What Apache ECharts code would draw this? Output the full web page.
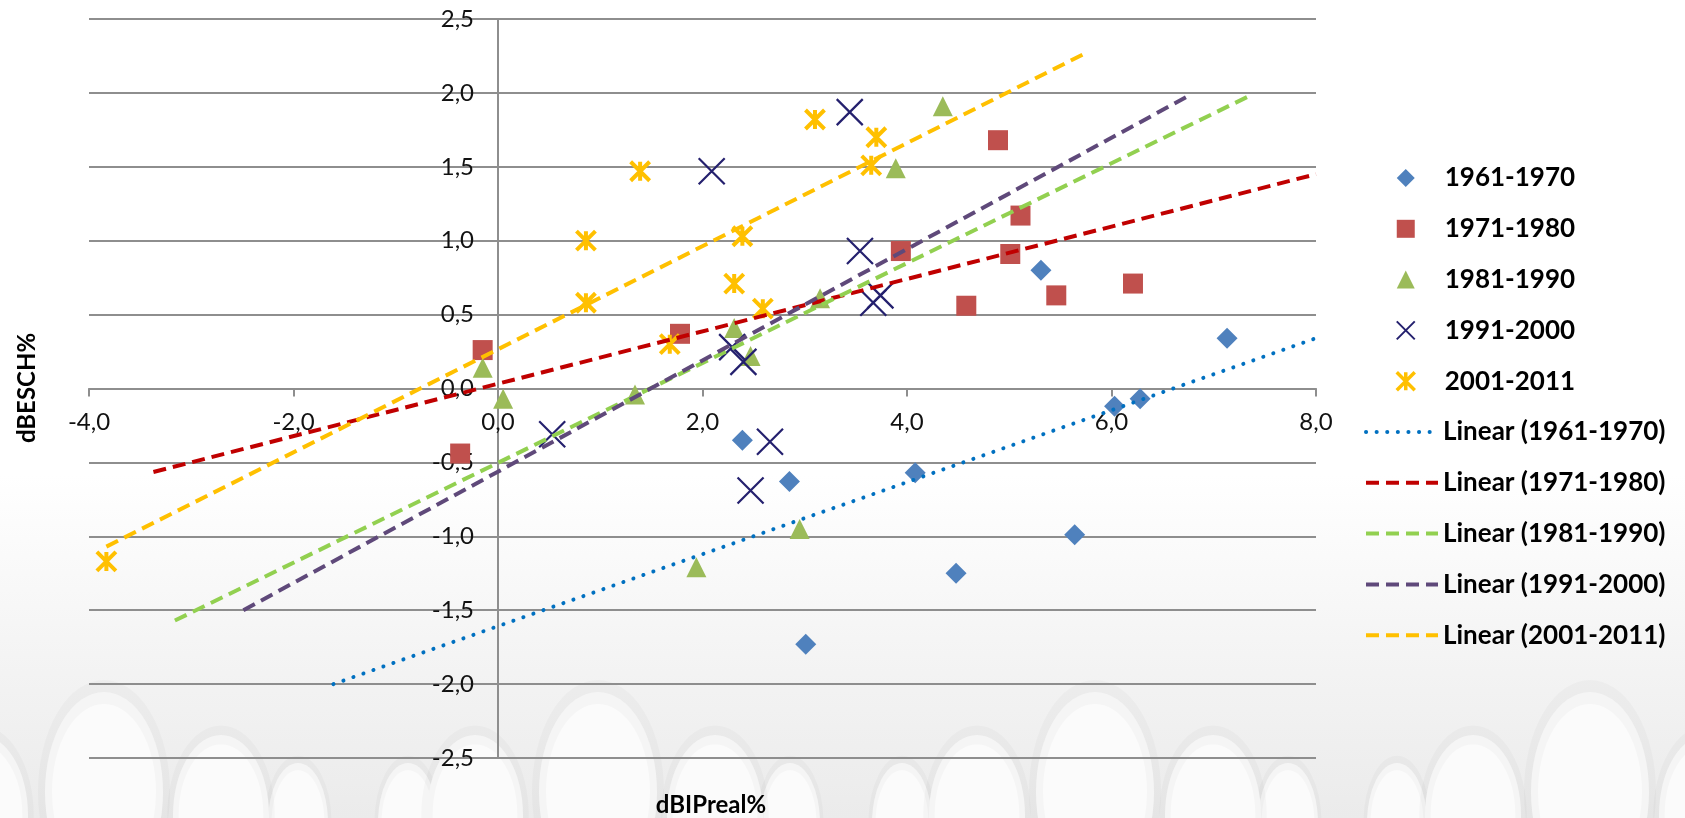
<!DOCTYPE html>
<html>
<head>
<meta charset="utf-8">
<script src="https://cdn.jsdelivr.net/npm/echarts@6/dist/echarts.min.js"></script>
<style>
html,body{margin:0;padding:0;background:#fff;}
#c{width:1685px;height:818px;}
</style>
</head>
<body>
<div id="c"></div>
<script>
// ---- data ----
const names = ['1961-1970', '1971-1980', '1981-1990', '1991-2000', '2001-2011'];

const x1961 = [2.39, 2.85, 3.01, 4.08, 4.48, 5.31, 5.64, 6.03, 6.28, 7.13];
const y1961 = [-0.35, -0.63, -1.73, -0.57, -1.25, 0.80, -0.99, -0.12, -0.07, 0.34];

const x1971 = [-0.37, -0.15, 1.78, 3.94, 4.58, 4.89, 5.01, 5.11, 5.46, 6.21];
const y1971 = [-0.44, 0.26, 0.37, 0.93, 0.56, 1.68, 0.91, 1.17, 0.63, 0.71];

const x1981 = [-0.15, 0.05, 1.34, 1.94, 2.31, 2.47, 2.95, 3.15, 3.89, 4.35];
const y1981 = [0.14, -0.07, -0.04, -1.21, 0.41, 0.22, -0.95, 0.61, 1.49, 1.91];

const x1991 = [0.53, 2.09, 2.29, 2.40, 2.47, 2.66, 3.44, 3.54, 3.67, 3.74];
const y1991 = [-0.31, 1.47, 0.28, 0.18, -0.69, -0.36, 1.87, 0.93, 0.58, 0.63];

const x2001 = [-3.83, 0.86, 0.86, 1.39, 1.68, 2.31, 2.39, 2.59, 3.10, 3.65, 3.70];
const y2001 = [-1.17, 0.58, 1.00, 1.47, 0.30, 0.71, 1.03, 0.54, 1.82, 1.51, 1.70];

// trend line end points (as drawn in the reference)
const tx1961 = [-1.61, 8.0],  ty1961 = [-2.0, 0.34];
const tx1971 = [-3.37, 8.0],  ty1971 = [-0.565, 1.45];
const tx1981 = [-3.16, 7.38], ty1981 = [-1.57, 1.99];
const tx1991 = [-2.49, 6.78], ty1991 = [-1.50, 1.99];
const tx2001 = [-3.83, 5.72], ty2001 = [-1.07, 2.26];

const xTicks = [-4, -2, 0, 2, 4, 6, 8];
const yTicks = [-2.5, -2, -1.5, -1, -0.5, 0, 0.5, 1, 1.5, 2, 2.5];

// ---- build ----
const zip = (a, b) => a.map((v, i) => [v, b[i]]);
const fmt = v => v.toFixed(1).replace('.', ',');
const FONT = 'Lato, "Open Sans", sans-serif';

const xPath = 'path://M0,0L10,10M10,0L0,10';
const starPath = 'path://M0,0L10,10M10,0L0,10M5,0L5,10';

const scatterDefs = [
  {name: names[0], data: zip(x1961, y1961), symbol: 'diamond', size: 21, itemStyle: {color: '#4F81BD', opacity: 1}},
  {name: names[1], data: zip(x1971, y1971), symbol: 'rect', size: 20, itemStyle: {color: '#C0504D', opacity: 1}},
  {name: names[2], data: zip(x1981, y1981), symbol: 'triangle', size: 20, itemStyle: {color: '#9BBB59', opacity: 1}},
  {name: names[3], data: zip(x1991, y1991), symbol: xPath, size: 26, itemStyle: {color: 'rgba(0,0,0,0)', borderColor: '#24206E', borderWidth: 2.2, opacity: 1}},
  {name: names[4], data: zip(x2001, y2001), symbol: starPath, size: 19, itemStyle: {color: 'rgba(0,0,0,0)', borderColor: '#FFC000', borderWidth: 4, opacity: 1}}
];

const trendDefs = [
  {name: 'Linear (' + names[0] + ')', data: zip(tx1961, ty1961), color: '#0070C0', type: [0.1, 10.5], cap: 'round', width: 4},
  {name: 'Linear (' + names[1] + ')', data: zip(tx1971, ty1971), color: '#C00000', type: [13, 7], cap: 'butt', width: 4},
  {name: 'Linear (' + names[2] + ')', data: zip(tx1981, ty1981), color: '#92D050', type: [13, 7], cap: 'butt', width: 4},
  {name: 'Linear (' + names[3] + ')', data: zip(tx1991, ty1991), color: '#5F497A', type: [13, 7], cap: 'butt', width: 4},
  {name: 'Linear (' + names[4] + ')', data: zip(tx2001, ty2001), color: '#FFC000', type: [13, 7], cap: 'butt', width: 4}
];

const series = [];
scatterDefs.forEach(d => series.push({
  type: 'scatter', name: d.name, data: d.data, symbol: d.symbol, symbolSize: d.size,
  itemStyle: d.itemStyle, z: 3, silent: true, emphasis: {disabled: true}
}));
trendDefs.forEach(d => series.push({
  type: 'line', name: d.name, data: d.data, symbol: 'none', showSymbol: false,
  lineStyle: {color: d.color, width: d.width, type: d.type, cap: d.cap},
  itemStyle: {color: d.color}, z: 4, silent: true, emphasis: {disabled: true}
}));

const scatterLegendData = scatterDefs.map(d => {
  const o = {name: d.name};
  if (d.name === names[4]) o.itemStyle = {borderWidth: 3.5};
  return o;
});
const lineLegendData = trendDefs.map(d => ({name: d.name, itemStyle: {opacity: 0, color: 'rgba(0,0,0,0)', borderWidth: 0}}));

// decorative background bubbles (bottom band): [cx, top]
const smallB = [[298, 763], [408, 763], [790, 763], [902, 763], [1288, 763], [1397, 763]];
const mediumB = [[-20, 735], [221, 735], [475, 735], [715, 735], [977, 735], [1213, 735], [1473, 735], [1707, 735]];
const bigB = [[104, 692], [598, 692], [1095, 692], [1590, 692]];

const graphics = [
  {type: 'rect', z: -100, silent: true, shape: {x: 0, y: 0, width: 1685, height: 818},
   style: {fill: {type: 'linear', x: 0, y: 0, x2: 0, y2: 1, colorStops: [
     {offset: 0, color: '#ffffff'}, {offset: 0.58, color: '#ffffff'},
     {offset: 0.8, color: '#f4f4f4'}, {offset: 1, color: '#ebebeb'}]}}}
];
function addBubbles(list, rx, ry, zz) {
  list.forEach(b => graphics.push({
    type: 'circle', z: zz, silent: true, x: b[0], y: b[1] + ry, scaleX: rx / 50, scaleY: ry / 50,
    shape: {cx: 0, cy: 0, r: 50},
    style: {fill: '#fbfbfb', stroke: 'rgba(0,0,0,0.022)', lineWidth: 12}
  }));
}
addBubbles(smallB, 30, 60, -99);
addBubbles(mediumB, 48, 80, -98);
addBubbles(bigB, 59, 100, -97);

graphics.push({
  type: 'text', z: 10, silent: true, x: 711, y: 805,
  style: {text: 'dBIPreal%', font: 'bold 24px ' + FONT, fill: '#000',
    align: 'center', verticalAlign: 'middle', textAlign: 'center', textVerticalAlign: 'middle'}
});
graphics.push({
  type: 'text', z: 10, silent: true, x: 27, y: 388, rotation: Math.PI / 2,
  style: {text: 'dBESCH%', font: 'bold 24px ' + FONT, fill: '#000',
    align: 'center', verticalAlign: 'middle', textAlign: 'center', textVerticalAlign: 'middle'}
});

const axisGray = '#8E8E8E';
const GRID = {left: 89, right: 369, top: 19, bottom: 60};
const plotW = 1685 - GRID.left - GRID.right;
const plotH = 818 - GRID.top - GRID.bottom;
// move axes onto the zero lines of the other axis
const xOffset = -plotH * (0 - yTicks[0]) / (yTicks[yTicks.length - 1] - yTicks[0]);
const yOffset = -plotW * (0 - xTicks[0]) / (xTicks[xTicks.length - 1] - xTicks[0]);

const option = {
  animation: false,
  backgroundColor: 'transparent',
  graphic: graphics,
  grid: Object.assign({containLabel: false}, GRID),
  xAxis: {
    type: 'value', min: xTicks[0], max: xTicks[xTicks.length - 1], interval: 2,
    position: 'bottom', offset: xOffset,
    axisLine: {show: true, onZero: false, lineStyle: {color: axisGray, width: 2}},
    axisTick: {show: true, length: 8, lineStyle: {color: axisGray, width: 2}},
    axisLabel: {formatter: fmt, fontFamily: FONT, fontSize: 24, color: '#111', margin: 22, showMinLabel: true, showMaxLabel: true},
    splitLine: {show: false}
  },
  yAxis: {
    type: 'value', min: yTicks[0], max: yTicks[yTicks.length - 1], interval: 0.5,
    position: 'left', offset: yOffset,
    axisLine: {show: true, onZero: false, lineStyle: {color: axisGray, width: 2}},
    axisTick: {show: true, length: 7, lineStyle: {color: axisGray, width: 2}},
    axisLabel: {formatter: fmt, fontFamily: FONT, fontSize: 24, color: '#111', margin: 24, showMinLabel: true, showMaxLabel: true},
    splitLine: {show: true, lineStyle: {color: axisGray, width: 2}}
  },
  legend: [
    {
      orient: 'vertical', left: 1390, top: 158,
      itemWidth: 18, itemHeight: 18, itemGap: 20.8, itemTextGap: 34,
      textStyle: {fontFamily: FONT, fontSize: 26, fontWeight: 'bold', color: '#000', lineHeight: 30, padding: [0, 0, 0, 25]},
      selectedMode: false,
      data: scatterLegendData
    },
    {
      orient: 'vertical', left: 1359, top: 412,
      itemWidth: 72, itemHeight: 18, itemGap: 20.8, itemTextGap: 7,
      textStyle: {fontFamily: FONT, fontSize: 26, fontWeight: 'bold', color: '#000', lineHeight: 30},
      lineStyle: {width: 4},
      itemStyle: {opacity: 0},
      selectedMode: false,
      data: lineLegendData
    }
  ],
  series: series
};

const chart = echarts.init(document.getElementById('c'), null, {renderer: 'canvas'});
chart.setOption(option);
</script>
</body>
</html>
